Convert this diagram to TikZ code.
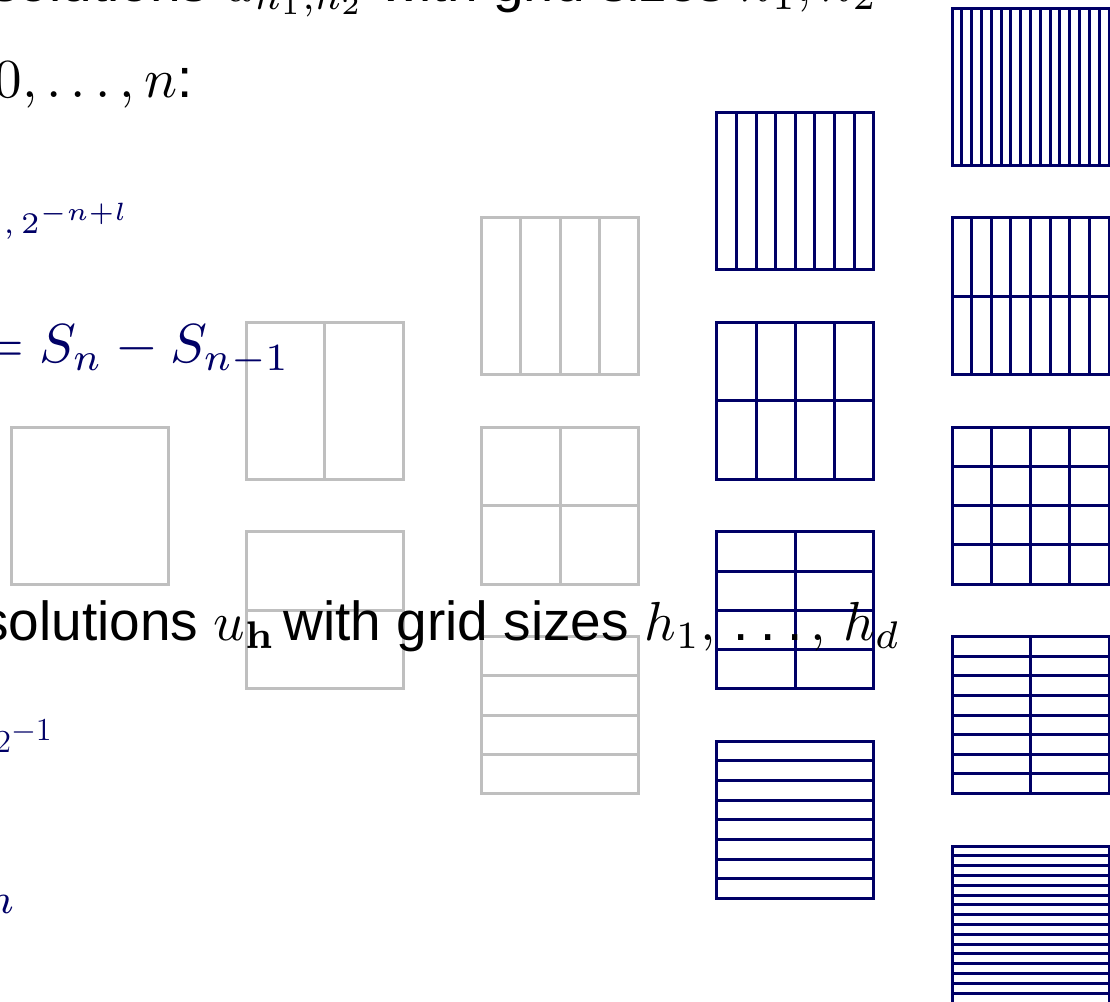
\RequirePackage{fix-cm}
\documentclass[tikz,border=0pt]{standalone}
\usepackage{graphicx}
\usepackage[no-math]{fontspec}
\setmainfont{Liberation Sans}
\usepackage{amsmath,amssymb}
\definecolor{navyline}{RGB}{0,0,102}
% slide text is set small and blown up
\newcommand{\slidetext}[1]{\scalebox{2.5}{#1}}
\tikzset{
  gridline/.style={line width=1.5pt, line cap=rect},
  navytext/.style={text=navyline, inner sep=0pt},
  blacktext/.style={text=black, inner sep=0pt, font=\fontsize{11}{13}\selectfont}
}

\begin{document}
\begin{tikzpicture}[x=0.5pt, y=-0.5pt]
\useasboundingbox (0,0) rectangle (1110,1002);
\clip (0,0) rectangle (1110,1002);
% grid size and spacing of the combination scheme
\def\cell{157}
\def\colstep{235.25}
\def\rowstep{104.75}

% --- component grids: 2^i x 2^j cells, level i+j ---
\foreach \i in {0,...,4}{
  \foreach \j in {0,...,4}{
    \pgfmathtruncatemacro\lvl{\i+\j}
    \ifnum\lvl<5
      \pgfmathsetmacro\xo{11+\colstep*\lvl}
      \pgfmathsetmacro\yo{427-\rowstep*(\i-\j)}
      \pgfmathtruncatemacro\nx{2^\i}
      \pgfmathtruncatemacro\ny{2^\j}
      \ifnum\lvl<3 \def\gcol{gray!50}\else\def\gcol{navyline}\fi
      \foreach \k in {0,...,\nx}
        \draw[gridline, draw=\gcol] ({\xo+\k*\cell/\nx},\yo) -- ++(0,\cell);
      \foreach \k in {0,...,\ny}
        \draw[gridline, draw=\gcol] (\xo,{\yo+\k*\cell/\ny}) -- ++(\cell,0);
    \fi
  }
}

% --- black text lines ---
\node[blacktext, anchor=base west] (solfull) at (-9,1)
    {\slidetext{solutions $u_{h_1,h_2}$ with grid sizes $h_1, h_2$}};
\node[blacktext, anchor=base east] (levels) at (193,97) {\slidetext{$0,\dots,n$:}};
\node[blacktext, anchor=base west] (solvec) at (-19,640)
    {\slidetext{solutions $u_{\mathbf{h}}$\kern-1.4pt\ with grid sizes
     $h_1,$\kern3.6pt.\kern2.3pt.\kern2.3pt.\kern1.6pt$,$\kern3.5pt$h_d$}};

% --- navy formulas ---
\node[navytext, anchor=base west, font=\fontsize{6}{7}\selectfont] (hsizes) at (3,233)
    {\slidetext{$,2^{-n+l}$}};
\node[navytext, anchor=base west, font=\fontsize{11}{13}\selectfont] (sdiff) at (-19,362)
    {\slidetext{$= S_n - S_{n-1}$}};
\node[navytext, anchor=base west, font=\fontsize{16}{19}\selectfont] (twoexp) at (-5,752)
    {$2^{\textstyle -1}$};
\node[navytext, anchor=base east, font=\fontsize{8.4}{10}\selectfont] (nsub) at (14,913)
    {\slidetext{$n$}};
\end{tikzpicture}
\end{document}
